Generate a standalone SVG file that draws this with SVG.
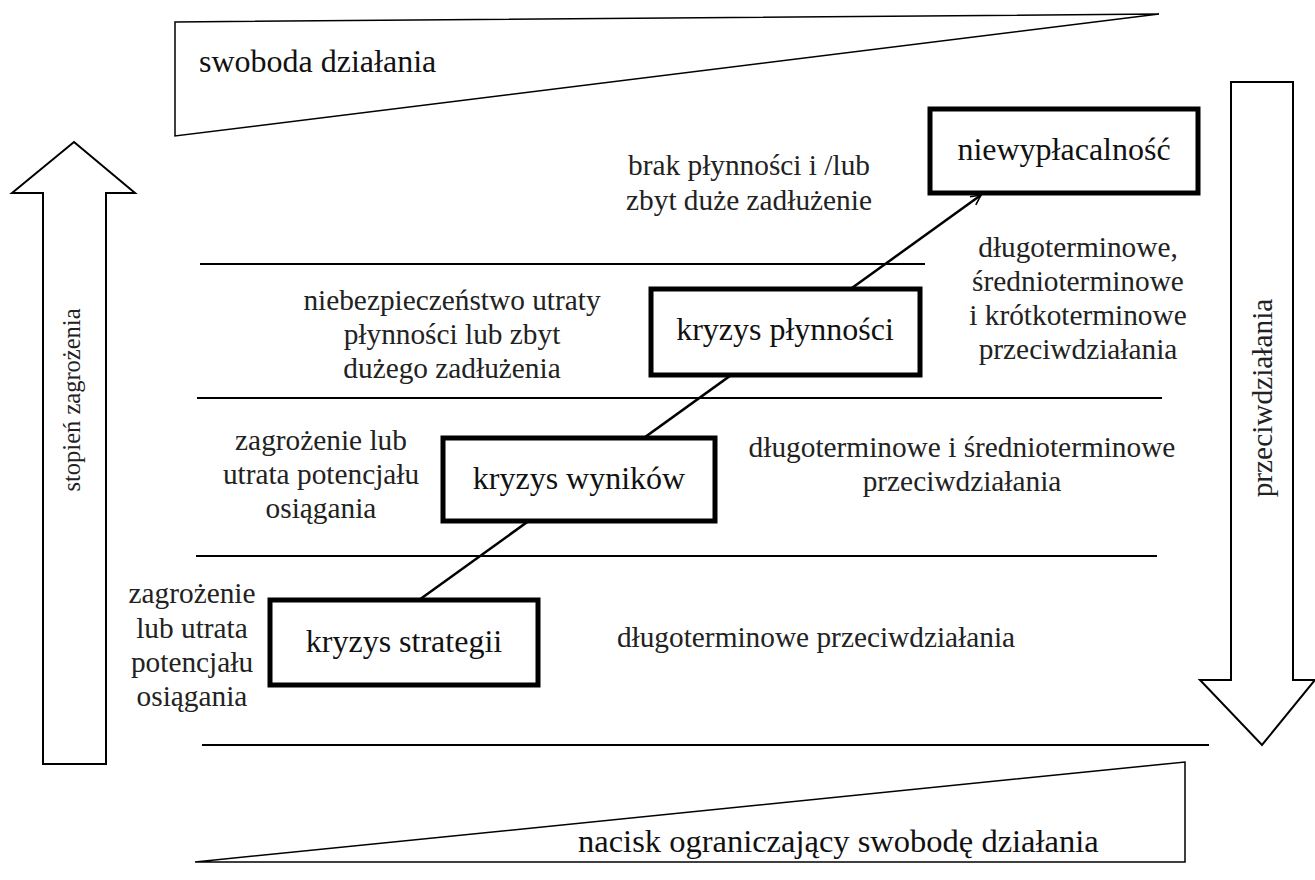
<svg xmlns="http://www.w3.org/2000/svg" width="1315" height="880" viewBox="0 0 1315 880">
  <style>
    .t { font-family: "Liberation Serif", "Times New Roman", serif; font-size: 29.33px; fill: #222; }
    .big { font-family: "Liberation Serif", "Times New Roman", serif; font-size: 32px; fill: #111; }
    .box { fill: #fff; stroke: #000; stroke-width: 5; }
    .outline { fill: #fff; stroke: #000; stroke-width: 2; stroke-linejoin: miter; }
    .wedge { fill: #fff; stroke: #000; stroke-width: 1.5; }
    .sep { stroke: #000; stroke-width: 2; }
  </style>
  <defs>
    <marker id="open-arrow" viewBox="0 0 12 12" refX="11" refY="6" markerWidth="12" markerHeight="12" markerUnits="userSpaceOnUse" orient="auto">
      <path d="M1,1 L11,6 L1,11" fill="none" stroke="#000" stroke-width="1.6"/>
    </marker>
  </defs>

  <!-- top wedge: freedom of action -->
  <g id="freedom">
    <polygon class="wedge" points="175,22 1159,14 175,136"/>
    <text class="big" x="199" y="72">swoboda działania</text>
  </g>

  <!-- bottom wedge: pressure -->
  <g id="pressure">
    <polygon class="wedge" points="195,862 1185,762 1185,862"/>
    <text class="big" x="578" y="852" style="font-size:32.5px">nacisk ograniczający swobodę działania</text>
  </g>

  <!-- separators between crisis levels -->
  <g id="separators">
    <line class="sep" x1="200" y1="264" x2="925" y2="264"/>
    <line class="sep" x1="197" y1="398" x2="1162" y2="398"/>
    <line class="sep" x1="196" y1="556" x2="1157" y2="556"/>
    <line class="sep" x1="202" y1="745" x2="1209" y2="745" stroke-width="3"/>
  </g>

  <!-- left arrow: threat level -->
  <g id="threat-arrow">
    <polygon class="outline" points="74,142 135,193 106,193 106,764 43,764 43,193 12,193"/>
    <text class="t" transform="translate(80,400) rotate(-90)" text-anchor="middle" style="font-size:24.5px">stopień zagrożenia</text>
  </g>

  <!-- right arrow: countermeasures -->
  <g id="counter-arrow">
    <polygon class="outline" points="1231,82 1293,82 1293,680 1315,680 1262,745 1200,680 1231,680"/>
    <text class="t" transform="translate(1272,398) rotate(-90)" text-anchor="middle">przeciwdziałania</text>
  </g>

  <!-- escalation path -->
  <g id="connectors">
    <line x1="419" y1="600" x2="981" y2="195" stroke="#000" stroke-width="2.5" marker-end="url(#open-arrow)"/>
  </g>

  <g id="strategy-crisis">
    <rect class="box" x="270" y="600" width="268" height="85"/>
    <text class="big" x="404" y="652" text-anchor="middle">kryzys strategii</text>
  </g>
  <g id="results-crisis">
    <rect class="box" x="443" y="438" width="272" height="83"/>
    <text class="big" x="579" y="489" text-anchor="middle">kryzys wyników</text>
  </g>
  <g id="liquidity-crisis">
    <rect class="box" x="651" y="289" width="269" height="86"/>
    <text class="big" x="785" y="340" text-anchor="middle">kryzys płynności</text>
  </g>
  <g id="insolvency">
    <rect class="box" x="930" y="109" width="268" height="84"/>
    <text class="big" x="1064" y="160" text-anchor="middle">niewypłacalność</text>
  </g>

  <!-- causes, left side -->
  <g id="cause-insolvency">
    <text class="t" x="749" y="175" text-anchor="middle">brak płynności i /lub</text>
    <text class="t" x="749" y="210" text-anchor="middle">zbyt duże zadłużenie</text>
  </g>
  <g id="cause-liquidity">
    <text class="t" x="452" y="310" text-anchor="middle">niebezpieczeństwo utraty</text>
    <text class="t" x="452" y="344" text-anchor="middle">płynności lub zbyt</text>
    <text class="t" x="452" y="378" text-anchor="middle">dużego zadłużenia</text>
  </g>
  <g id="cause-results">
    <text class="t" x="321" y="450" text-anchor="middle">zagrożenie lub</text>
    <text class="t" x="321" y="484" text-anchor="middle">utrata potencjału</text>
    <text class="t" x="321" y="518" text-anchor="middle">osiągania</text>
  </g>
  <g id="cause-strategy">
    <text class="t" x="192" y="603" text-anchor="middle">zagrożenie</text>
    <text class="t" x="192" y="638" text-anchor="middle">lub utrata</text>
    <text class="t" x="192" y="672" text-anchor="middle">potencjału</text>
    <text class="t" x="192" y="706" text-anchor="middle">osiągania</text>
  </g>

  <!-- countermeasures, right side -->
  <g id="measures-liquidity">
    <text class="t" x="1078" y="257" text-anchor="middle">długoterminowe,</text>
    <text class="t" x="1078" y="291" text-anchor="middle">średnioterminowe</text>
    <text class="t" x="1078" y="325" text-anchor="middle">i krótkoterminowe</text>
    <text class="t" x="1078" y="359" text-anchor="middle">przeciwdziałania</text>
  </g>
  <g id="measures-results">
    <text class="t" x="962" y="457" text-anchor="middle">długoterminowe i średnioterminowe</text>
    <text class="t" x="962" y="491" text-anchor="middle">przeciwdziałania</text>
  </g>
  <g id="measures-strategy">
    <text class="t" x="816" y="647" text-anchor="middle">długoterminowe przeciwdziałania</text>
  </g>
</svg>
